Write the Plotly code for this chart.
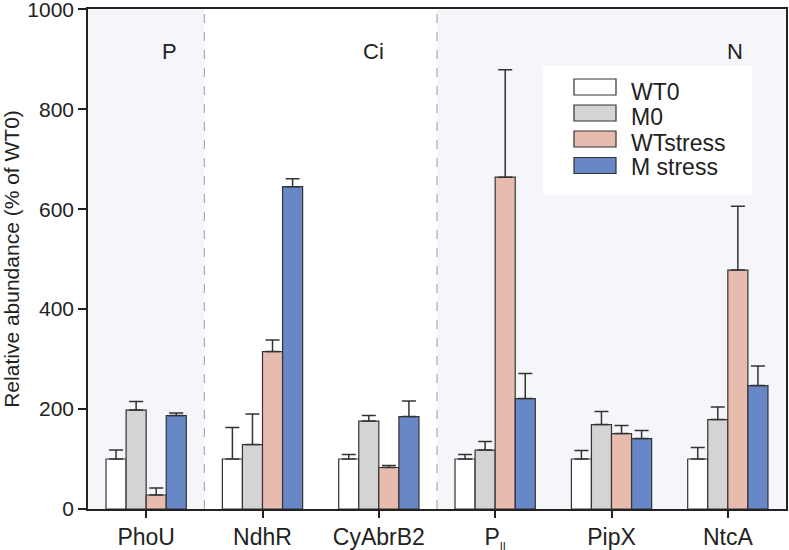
import plotly.graph_objects as go

categories = ["PhoU", "NdhR", "CyAbrB2",
              "P<sub><span style='font-size:11px'>II</span></sub>", "PipX", "NtcA"]
series_names = ["WT0", "M0", "WTstress", "M stress"]
wt0 = [100, 100, 100, 100, 100, 100]
wt0_err = [18, 63, 9, 9, 17, 23]
m0 = [198, 129, 176, 118, 169, 179]
m0_err = [17, 61, 11, 17, 26, 25]
wtstress = [28, 315, 83, 664, 151, 478]
wtstress_err = [14, 23, 4, 215, 16, 128]
mstress = [187, 645, 185, 221, 141, 247]
mstress_err = [5, 16, 31, 50, 16, 39]
region_labels = ["P", "Ci", "N"]
y_ticks = [0, 200, 400, 600, 800, 1000]

colors = ["#ffffff", "#d4d4d4", "#e7bcae", "#6787c6"]
values = [wt0, m0, wtstress, mstress]
errors = [wt0_err, m0_err, wtstress_err, mstress_err]

FONT = "Liberation Sans, Arial, sans-serif"
xpos = list(range(len(categories)))

fig = go.Figure()
for name, col, v, e in zip(series_names, colors, values, errors):
    fig.add_trace(go.Bar(
        x=xpos, y=v, name=name,
        marker=dict(color=col, line=dict(color="#333333", width=1.2)),
        error_y=dict(type="data", array=e, symmetric=False, arrayminus=[0]*len(e),
                     color="#333333", thickness=1.5, width=7),
        showlegend=False,
    ))

shapes = [
    dict(type="rect", xref="x", yref="y", x0=-0.5, x1=0.5, y0=0, y1=1000,
         fillcolor="#f4f6f9", line=dict(width=0), layer="below"),
    dict(type="rect", xref="x", yref="y", x0=2.5, x1=5.5, y0=0, y1=1000,
         fillcolor="#f4f6f9", line=dict(width=0), layer="below"),
    dict(type="line", xref="x", yref="y", x0=0.5, x1=0.5, y0=0, y1=1000,
         line=dict(color="#9a9a9a", width=1, dash="dash"), layer="below"),
    dict(type="line", xref="x", yref="y", x0=2.5, x1=2.5, y0=0, y1=1000,
         line=dict(color="#9a9a9a", width=1, dash="dash"), layer="below"),
]

annotations = []
for lab, xp in zip(region_labels, [0.2, 1.95, 5.06]):
    annotations.append(dict(x=xp, y=915, xref="x", yref="y", text=lab, showarrow=False,
                            font=dict(family=FONT, size=22, color="#222222")))

# legend drawn as box + swatches, positioned in paper coordinates
W, H = 789, 550
L, R, T, B = 88, 3, 9, 41
pw, ph = W - L - R, H - T - B
def px(x):
    return (x - L) / pw
def py(y):
    return 1 - (y - T) / ph

shapes.append(dict(type="rect", xref="paper", yref="paper", x0=px(543), x1=px(752),
                   y0=py(195), y1=py(66), fillcolor="#ffffff", line=dict(width=0)))
swatch_y = [87, 113, 139, 165.5]
text_y = [92, 117.5, 142.5, 167]
for name, col, sy, ty in zip(series_names, colors, swatch_y, text_y):
    shapes.append(dict(type="rect", xref="paper", yref="paper", x0=px(574), x1=px(616),
                       y0=py(sy + 8), y1=py(sy - 8), fillcolor=col,
                       line=dict(color="#333333", width=1.2)))
    annotations.append(dict(x=px(629), y=py(ty), xref="paper", yref="paper", text=name,
                            showarrow=False, xanchor="left", yanchor="middle",
                            font=dict(family=FONT, size=23, color="#222222")))

fig.update_layout(
    width=W, height=H,
    margin=dict(l=L, r=R, t=T, b=B, autoexpand=False),
    paper_bgcolor="#ffffff", plot_bgcolor="#ffffff",
    barmode="group", bargap=0.31, bargroupgap=0,
    shapes=shapes, annotations=annotations,
    font=dict(family=FONT, color="#222222"),
    xaxis=dict(tickmode="array", tickvals=xpos, ticktext=categories, range=[-0.5, 5.5],
               showline=True, linecolor="#222222", linewidth=1.5, mirror=True,
               ticks="outside", ticklen=7, tickwidth=1.5, tickcolor="#222222",
               tickfont=dict(size=23), showgrid=False, zeroline=False, automargin=False),
    yaxis=dict(range=[0, 1000.5], tickvals=y_ticks, showline=True, linecolor="#222222",
               linewidth=1.5, mirror=True, ticks="outside", ticklen=8, tickwidth=1.5,
               tickcolor="#222222", tickfont=dict(size=21), showgrid=False, zeroline=False,
               automargin=False, ticklabeloverflow="allow",
               title=dict(text="Relative abundance (% of WT0)", font=dict(size=21), standoff=3)),
)

fig.write_html("out.html", config={"displayModeBar": False},
               post_script="document.body.style.margin='0px';")
